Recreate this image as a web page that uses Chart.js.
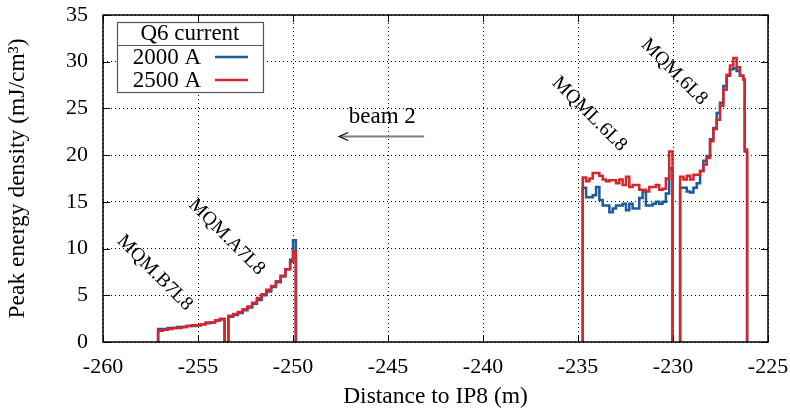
<!DOCTYPE html>
<html>
<head>
<meta charset="utf-8">
<script src="https://cdn.jsdelivr.net/npm/chart.js@4/dist/chart.umd.min.js"></script>
<style>
  html, body { margin: 0; padding: 0; background: #fff; }
  #wrap { width: 790px; height: 411px; }
</style>
</head>
<body>
<div id="wrap"><canvas id="c" width="790" height="411"></canvas></div>
<script>
// ---- Data ----
const xTicks = [-260, -255, -250, -245, -240, -235, -230, -225];
const yTicks = [0, 5, 10, 15, 20, 25, 30, 35];
const seriesNames = ['2000 A', '2500 A'];
const legendTitle = 'Q6 current';

// Section A: MQM.B7L8
const edgesA = [-257.10,-256.85,-256.60,-256.35,-256.10,-255.85,-255.60,-255.35,-255.10,-254.85,-254.60,-254.35,-254.10,-253.85,-253.60];
const blueA  = [1.4,1.4,1.5,1.5,1.6,1.6,1.7,1.7,1.8,1.9,2.0,2.1,2.3,2.4];
const redA   = [1.2,1.3,1.4,1.5,1.5,1.6,1.7,1.8,1.8,1.9,2.1,2.1,2.3,2.5];

// Section B: MQM.A7L8
const edgesB = [-253.40,-253.15,-252.90,-252.65,-252.40,-252.15,-251.90,-251.65,-251.40,-251.15,-250.90,-250.65,-250.40,-250.15,-250.00,-249.85];
const blueB  = [2.7,2.9,3.1,3.4,3.7,4.1,4.5,5.0,5.4,5.9,6.4,7.0,7.8,8.8,10.9];
const redB   = [2.8,3.0,3.2,3.5,3.8,4.2,4.7,5.1,5.6,6.0,6.5,7.1,7.8,8.6,9.7];

// Section C: MQML.6L8
const edgesC = [-234.750,-234.575,-234.400,-234.225,-234.050,-233.875,-233.700,-233.525,-233.350,-233.175,-233.000,-232.825,-232.650,-232.475,-232.300,-232.125,-231.950,-231.775,-231.600,-231.425,-231.250,-231.075,-230.900,-230.725,-230.550,-230.375,-230.200,-230.025];
const blueC  = [16.5,15.5,15.5,15.7,16.6,15.2,14.6,14.6,13.9,14.3,14.6,14.6,14.8,14.1,14.8,14.3,14.3,15.4,16.1,14.6,14.6,14.8,15.0,14.8,15.0,15.9,18.6];
const redC   = [17.6,17.2,17.5,18.1,18.1,17.8,17.4,17.2,17.3,17.3,17.0,17.4,16.8,17.7,16.6,16.8,16.8,16.3,16.3,16.1,16.6,16.6,16.8,16.3,16.4,17.5,20.4];

// Section D: MQM.6L8
const edgesD = [-229.625,-229.450,-229.275,-229.100,-228.925,-228.750,-228.575,-228.400,-228.225,-228.050,-227.875,-227.700,-227.525,-227.350,-227.175,-227.000,-226.825,-226.650,-226.475,-226.300,-226.225,-226.100];
const blueD  = [16.5,16.5,16.1,16.0,16.5,17.0,18.3,19.4,19.9,21.7,22.9,24.5,25.6,27.4,28.5,29.2,29.3,29.0,28.5,28.1,20.4];
const redD   = [17.7,17.4,17.8,17.4,17.9,17.9,18.3,19.0,19.7,21.5,22.8,23.8,25.3,27.0,28.6,29.6,30.4,29.4,28.5,28.1,20.6];

// Annotations (text, x, y in data units)
const magnetLabels = [
  { text: 'MQM.B7L8', x: -257.27, y: 7.4 },
  { text: 'MQM.A7L8', x: -253.49, y: 11.24 },
  { text: 'MQML.6L8', x: -234.40, y: 24.4 },
  { text: 'MQM.6L8',  x: -229.94, y: 28.9 }
];
const beamLabel = { text: 'beam 2', x: -245.3, y: 24.1 };
const beamArrow = { x1: -243.1, x2: -247.57, y: 22 };

// ---- Build stepped histogram points ----
function buildSeries(sections) {
  const pts = [];
  sections.forEach(([edges, vals]) => {
    pts.push({ x: edges[0], y: 0 });
    vals.forEach((v, i) => pts.push({ x: edges[i], y: v }));
    const last = edges[edges.length - 1];
    pts.push({ x: last, y: vals[vals.length - 1] });
    pts.push({ x: last, y: 0 });
    pts.push({ x: last, y: null });
  });
  return pts;
}
const blueData = buildSeries([[edgesA, blueA], [edgesB, blueB], [edgesC, blueC], [edgesD, blueD]]);
const redData  = buildSeries([[edgesA, redA],  [edgesB, redB],  [edgesC, redC],  [edgesD, redD]]);

const BLUE = '#1b5c9c';
const RED = '#d8242b';
const FONT = 'Liberation Serif';

const overlay = {
  id: 'overlay',
  afterDraw(chart) {
    const ctx = chart.ctx;
    const xs = chart.scales.x, ys = chart.scales.y;
    const a = chart.chartArea;
    ctx.save();
    // frame
    ctx.strokeStyle = '#000';
    ctx.lineWidth = 1.5;
    ctx.strokeRect(a.left, a.top, a.right - a.left, a.bottom - a.top);
    // inward ticks
    ctx.lineWidth = 1;
    ctx.beginPath();
    xTicks.forEach(v => {
      const px = Math.round(xs.getPixelForValue(v)) + 0.5;
      ctx.moveTo(px, a.bottom); ctx.lineTo(px, a.bottom - 7);
      ctx.moveTo(px, a.top); ctx.lineTo(px, a.top + 7);
    });
    yTicks.forEach(v => {
      const py = Math.round(ys.getPixelForValue(v)) + 0.5;
      ctx.moveTo(a.left, py); ctx.lineTo(a.left + 7, py);
      ctx.moveTo(a.right, py); ctx.lineTo(a.right - 7, py);
    });
    ctx.stroke();

    // magnet labels, rotated 45 deg
    ctx.fillStyle = '#000';
    ctx.font = '19.5px "' + FONT + '"';
    ctx.textAlign = 'center';
    ctx.textBaseline = 'middle';
    magnetLabels.forEach(l => {
      ctx.save();
      ctx.translate(xs.getPixelForValue(l.x), ys.getPixelForValue(l.y));
      ctx.rotate(Math.PI / 4);
      ctx.fillText(l.text, 0, 0);
      ctx.restore();
    });

    // beam label + arrow
    ctx.font = '23px "' + FONT + '"';
    ctx.fillText(beamLabel.text, xs.getPixelForValue(beamLabel.x), ys.getPixelForValue(beamLabel.y));
    const ax1 = xs.getPixelForValue(beamArrow.x1), ax2 = xs.getPixelForValue(beamArrow.x2);
    const ay = Math.round(ys.getPixelForValue(beamArrow.y)) + 0.5;
    ctx.strokeStyle = '#7f7f7f';
    ctx.lineWidth = 2;
    ctx.beginPath(); ctx.moveTo(ax1, ay); ctx.lineTo(ax2 + 2, ay); ctx.stroke();
    ctx.strokeStyle = '#000';
    ctx.lineWidth = 1.2;
    ctx.beginPath();
    ctx.moveTo(ax2 + 9, ay - 4); ctx.lineTo(ax2, ay); ctx.lineTo(ax2 + 9, ay + 4);
    ctx.stroke();

    // legend box
    const lx = a.left + 14, ly = a.top + 7, lw = 146, lh = 70, sep = 23;
    ctx.fillStyle = '#fff';
    ctx.fillRect(lx, ly, lw, lh);
    ctx.strokeStyle = '#555';
    ctx.lineWidth = 1.2;
    ctx.strokeRect(lx + 0.5, ly + 0.5, lw, lh);
    ctx.beginPath(); ctx.moveTo(lx, ly + sep + 0.5); ctx.lineTo(lx + lw, ly + sep + 0.5); ctx.stroke();
    ctx.fillStyle = '#000';
    ctx.font = '23px "' + FONT + '"';
    ctx.textAlign = 'center';
    ctx.fillText(legendTitle, lx + lw / 2, ly + 12);
    ctx.textAlign = 'right';
    const rows = [[seriesNames[0], BLUE, ly + 35], [seriesNames[1], RED, ly + 58]];
    rows.forEach(([t, c, y]) => {
      ctx.fillStyle = '#000';
      ctx.fillText(t, lx + 84, y + 1);
      ctx.strokeStyle = c;
      ctx.lineWidth = 2.5;
      ctx.beginPath(); ctx.moveTo(lx + 98, y); ctx.lineTo(lx + 131, y); ctx.stroke();
    });
    ctx.restore();
  }
};

new Chart(document.getElementById('c'), {
  type: 'line',
  data: {
    datasets: [
      { label: seriesNames[1], data: redData, borderColor: RED, borderWidth: 2.5, stepped: true, pointRadius: 0, spanGaps: false, fill: false },
      { label: seriesNames[0], data: blueData, borderColor: BLUE, borderWidth: 2.5, stepped: true, pointRadius: 0, spanGaps: false, fill: false }
    ]
  },
  options: {
    responsive: false,
    animation: false,
    parsing: true,
    layout: { padding: { top: 15, right: 22, left: 0, bottom: 0 } },
    plugins: { legend: { display: false }, tooltip: { enabled: false } },
    scales: {
      x: {
        type: 'linear', min: -260, max: -225,
        afterBuildTicks: s => { s.ticks = xTicks.map(v => ({ value: v })); },
        afterFit: s => { s.height = 69; s.paddingLeft = 0; s.paddingRight = 0; },
        ticks: { color: '#000', font: { family: FONT, size: 22 }, padding: 12, maxRotation: 0 },
        grid: { color: '#000', lineWidth: 1, drawTicks: false },
        border: { display: false, dash: [1, 3] },
        title: { display: true, text: 'Distance to IP8 (m)', color: '#000', font: { family: FONT, size: 23.5 }, padding: { top: 0, bottom: 0 } }
      },
      y: {
        type: 'linear', min: 0, max: 35,
        afterBuildTicks: s => { s.ticks = yTicks.map(v => ({ value: v })); },
        afterFit: s => { s.width = 103; s.paddingTop = 0; s.paddingBottom = 0; },
        ticks: { color: '#000', font: { family: FONT, size: 22 }, padding: 15 },
        grid: { color: '#000', lineWidth: 1, drawTicks: false },
        border: { display: false, dash: [1, 3] },
        title: { display: true, text: 'Peak energy density (mJ/cm³)', color: '#000', font: { family: FONT, size: 23.5 }, padding: { top: 4, bottom: 4 } }
      }
    }
  },
  plugins: [overlay]
});
</script>
</body>
</html>
